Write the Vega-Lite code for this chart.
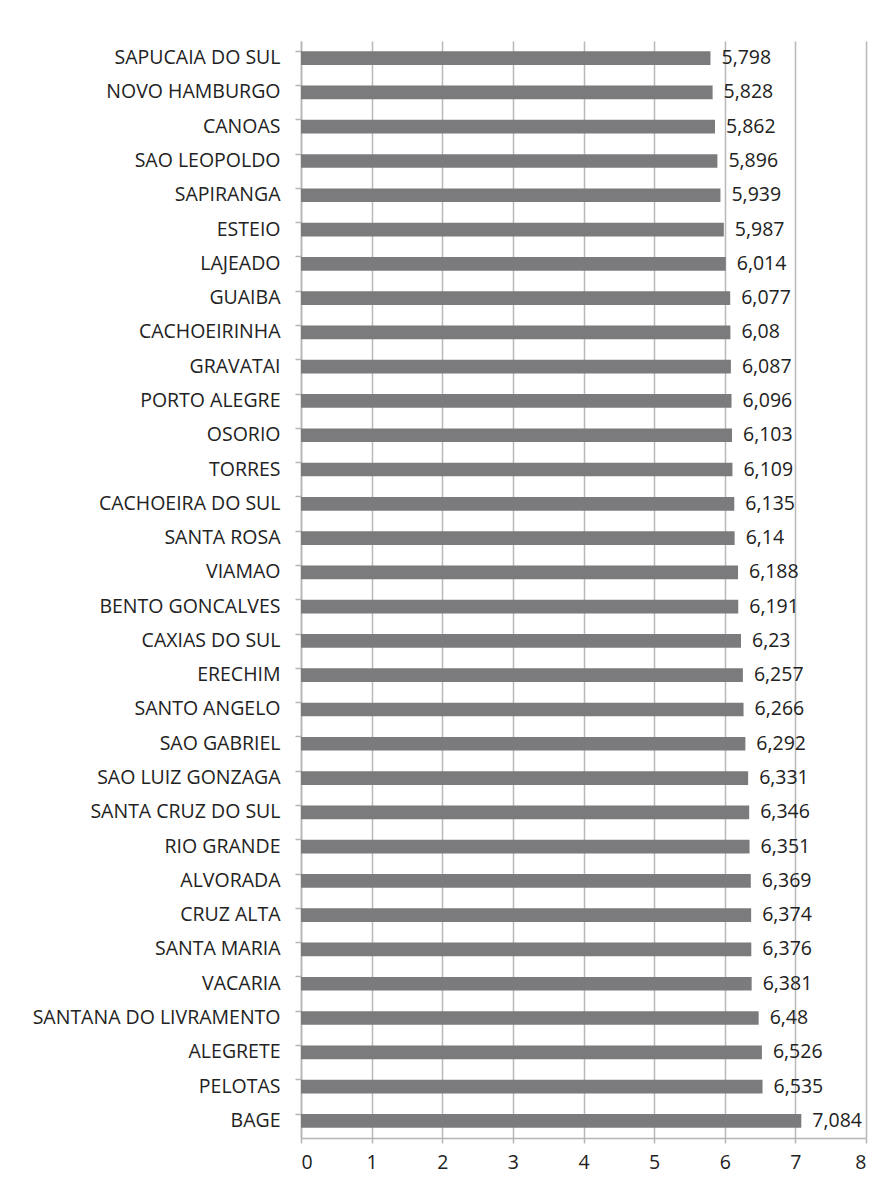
{
  "$schema": "https://vega.github.io/schema/vega-lite/v6.json",
  "autosize": {"type": "none"},
  "width": 565,
  "height": 1097,
  "padding": {"left": 301, "top": 41, "right": 18, "bottom": 50},
  "background": "white",
  "config": {
    "locale": {"number": {"decimal": ",", "thousands": ".", "grouping": [3], "currency": ["", ""]}},
    "view": {"stroke": null},
    "font": "Open Sans"
  },
  "data": {
    "values": [
      {"city": "SAPUCAIA DO SUL", "value": 5.798},
      {"city": "NOVO HAMBURGO", "value": 5.828},
      {"city": "CANOAS", "value": 5.862},
      {"city": "SAO LEOPOLDO", "value": 5.896},
      {"city": "SAPIRANGA", "value": 5.939},
      {"city": "ESTEIO", "value": 5.987},
      {"city": "LAJEADO", "value": 6.014},
      {"city": "GUAIBA", "value": 6.077},
      {"city": "CACHOEIRINHA", "value": 6.08},
      {"city": "GRAVATAI", "value": 6.087},
      {"city": "PORTO ALEGRE", "value": 6.096},
      {"city": "OSORIO", "value": 6.103},
      {"city": "TORRES", "value": 6.109},
      {"city": "CACHOEIRA DO SUL", "value": 6.135},
      {"city": "SANTA ROSA", "value": 6.14},
      {"city": "VIAMAO", "value": 6.188},
      {"city": "BENTO GONCALVES", "value": 6.191},
      {"city": "CAXIAS DO SUL", "value": 6.23},
      {"city": "ERECHIM", "value": 6.257},
      {"city": "SANTO ANGELO", "value": 6.266},
      {"city": "SAO GABRIEL", "value": 6.292},
      {"city": "SAO LUIZ GONZAGA", "value": 6.331},
      {"city": "SANTA CRUZ DO SUL", "value": 6.346},
      {"city": "RIO GRANDE", "value": 6.351},
      {"city": "ALVORADA", "value": 6.369},
      {"city": "CRUZ ALTA", "value": 6.374},
      {"city": "SANTA MARIA", "value": 6.376},
      {"city": "VACARIA", "value": 6.381},
      {"city": "SANTANA DO LIVRAMENTO", "value": 6.48},
      {"city": "ALEGRETE", "value": 6.526},
      {"city": "PELOTAS", "value": 6.535},
      {"city": "BAGE", "value": 7.084}
    ]
  },
  "encoding": {
    "y": {
      "field": "city",
      "type": "nominal",
      "sort": {"field": "value", "order": "ascending"},
      "scale": {"paddingInner": 0.6, "paddingOuter": 0.3},
      "axis": {
        "title": null,
        "bandPosition": 0,
        "domainColor": "#b5b5b5",
        "domainWidth": 1.5,
        "tickColor": "#b5b5b5",
        "tickWidth": 1.5,
        "tickSize": 6,
        "labelFont": "Open Sans",
        "labelFontSize": 19.5,
        "labelColor": "#222222",
        "labelPadding": 15,
        "labelLimit": 400,
        "grid": false
      }
    },
    "x": {
      "field": "value",
      "type": "quantitative",
      "scale": {"domain": [0, 8], "nice": false},
      "axis": {
        "title": null,
        "values": [0, 1, 2, 3, 4, 5, 6, 7, 8],
        "grid": true,
        "gridColor": "#b8b8b8",
        "gridWidth": 1.5,
        "domainColor": "#b5b5b5",
        "domainWidth": 1.5,
        "tickColor": "#b5b5b5",
        "tickWidth": 1.5,
        "tickSize": 5,
        "labelFont": "Open Sans",
        "labelFontSize": 19.5,
        "labelColor": "#222222",
        "labelPadding": 10
      }
    }
  },
  "layer": [
    {"mark": {"type": "bar", "color": "#7b7b7d"}},
    {
      "mark": {"type": "text", "align": "left", "baseline": "middle", "dx": 11, "fontSize": 19.5, "color": "#222222", "font": "Open Sans"},
      "encoding": {"text": {"field": "value", "type": "quantitative", "format": ".4~r"}}
    }
  ]
}
